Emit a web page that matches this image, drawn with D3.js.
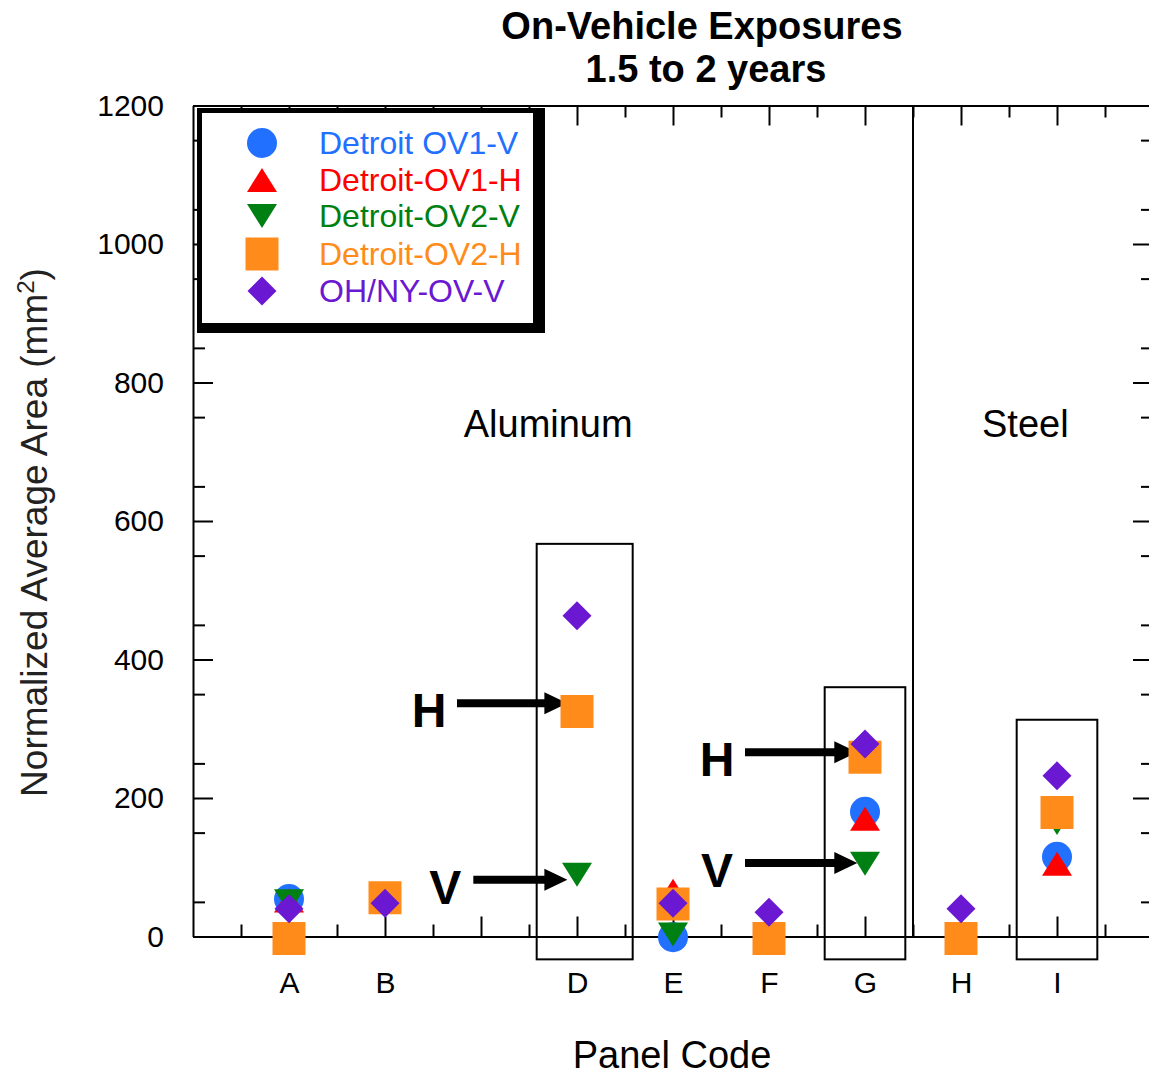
<!DOCTYPE html>
<html>
<head>
<meta charset="utf-8">
<script src="https://cdn.jsdelivr.net/npm/d3@7"></script>
<style>
  body { margin: 0; background: #fff; }
  text { font-family: "Liberation Sans", Arial, sans-serif; }
</style>
</head>
<body>
<div id="chart"></div>
<script>
// Panel codes (position 1..9), C has no data and no label
const panels = ["A", "B", "C", "D", "E", "F", "G", "H", "I"];
const tickLabels = ["A", "B", "", "D", "E", "F", "G", "H", "I"];
const yTicks = [0, 200, 400, 600, 800, 1000, 1200];

// Series values per panel (null = no point)
const detroitOV1V = [54, null, null, null, -1, null, 180, null, 115];
const detroitOV1H = [52, null, null, null, 66, null, 170, null, 105];
const detroitOV2V = [51, null, null, 89, 3, null, 105, null, 164];
const detroitOV2H = [-3, 56, null, 325, 47, -3, 259, -3, 179];
const ohnyOVV = [40, 48, null, 463, 48, 35, 278, 40, 232];

const seriesNames = ["Detroit OV1-V", "Detroit-OV1-H", "Detroit-OV2-V", "Detroit-OV2-H", "OH/NY-OV-V"];
const seriesValues = [detroitOV1V, detroitOV1H, detroitOV2V, detroitOV2H, ohnyOVV];

// Annotation boxes (x in panel units, top in mm2) and H/V arrows
const boxes = [
  { x0: 3.58, x1: 4.58, top: 567 },
  { x0: 6.58, x1: 7.42, top: 360 },
  { x0: 8.58, x1: 9.42, top: 313 }
];
const arrows = [
  { label: "H", x0: 2.75, x1: 3.9, y: 337 },
  { label: "V", x0: 2.92, x1: 3.9, y: 82 },
  { label: "H", x0: 5.75, x1: 6.92, y: 266 },
  { label: "V", x0: 5.75, x1: 6.92, y: 106 }
];

(function() {
const margin = { top: 105.5, right: -4, bottom: 139.5, left: 193 };
const W = 1149, H = 1076;
const width = W - margin.left - margin.right;
const height = H - margin.top - margin.bottom;

const colors = ["#2170ff", "#ff0000", "#007f12", "#ff8c1a", "#6a18d2"];

// marker shapes, centred on their box
const shapes = [
  () => d3.symbol(d3.symbolCircle, Math.PI * 15 * 15)(),
  () => "M0,-12L15,12L-15,12Z",
  () => "M-15,-12L15,-12L0,12Z",
  () => "M-16.5,-16.5H16.5V16.5H-16.5Z",
  () => "M0,-14.5L14.5,0L0,14.5L-14.5,0Z"
];

const svgRoot = d3.select("#chart")
  .append("svg")
  .attr("width", W)
  .attr("height", H);

const svg = svgRoot.append("g")
  .attr("transform", `translate(${margin.left},${margin.top})`);

// Scales
const x = d3.scaleLinear().domain([0, 10]).range([0, width]);
const y = d3.scaleLinear().domain([0, 1200]).range([height, 0]);

const majorX = d3.range(1, 10);
const minorX = d3.range(0.5, 10, 1);
const minorY = d3.range(50, 1200, 100);

function styleAxis(g) {
  g.selectAll("path, line").attr("stroke", "#000").attr("stroke-width", 2);
  g.selectAll("text").attr("fill", "#000").style("font-family", "Liberation Sans, Arial, sans-serif");
}

// Left axis
svg.append("g")
  .call(d3.axisLeft(y).tickValues(yTicks).tickFormat(d3.format("d"))
    .tickSizeInner(-20).tickSizeOuter(0).tickPadding(29))
  .call(styleAxis)
  .selectAll("text").style("font-size", "30px");
svg.append("g")
  .call(d3.axisLeft(y).tickValues(minorY).tickSize(-12).tickFormat(""))
  .call(styleAxis).select(".domain").remove();

// Right axis
svg.append("g")
  .attr("transform", `translate(${width},0)`)
  .call(d3.axisRight(y).tickValues(yTicks).tickSizeInner(-20).tickSizeOuter(0).tickFormat(""))
  .call(styleAxis);
svg.append("g")
  .attr("transform", `translate(${width},0)`)
  .call(d3.axisRight(y).tickValues(minorY).tickSize(-12).tickFormat(""))
  .call(styleAxis).select(".domain").remove();

// Bottom axis
svg.append("g")
  .attr("transform", `translate(0,${height})`)
  .call(d3.axisBottom(x).tickValues(majorX).tickSizeInner(-20).tickSizeOuter(0).tickPadding(35)
    .tickFormat((d, i) => tickLabels[i]))
  .call(styleAxis)
  .selectAll("text").style("font-size", "30px");
svg.append("g")
  .attr("transform", `translate(0,${height})`)
  .call(d3.axisBottom(x).tickValues(minorX).tickSize(-12).tickFormat(""))
  .call(styleAxis).select(".domain").remove();

// Top axis
svg.append("g")
  .call(d3.axisTop(x).tickValues(majorX).tickSizeInner(-20).tickSizeOuter(0).tickFormat(""))
  .call(styleAxis);
svg.append("g")
  .call(d3.axisTop(x).tickValues(minorX).tickSize(-12).tickFormat(""))
  .call(styleAxis).select(".domain").remove();

// Aluminum / Steel divider
svg.append("line")
  .attr("x1", x(7.5)).attr("x2", x(7.5))
  .attr("y1", y(1200)).attr("y2", y(0))
  .attr("stroke", "#000").attr("stroke-width", 2);

svg.append("text")
  .attr("x", x(3.7)).attr("y", y(722))
  .attr("text-anchor", "middle")
  .style("font-size", "38px")
  .text("Aluminum");
svg.append("text")
  .attr("x", x(8.67)).attr("y", y(722))
  .attr("text-anchor", "middle")
  .style("font-size", "38px")
  .text("Steel");

// Boxes around D, G, I
svg.selectAll(".box")
  .data(boxes)
  .enter()
  .append("rect")
  .attr("x", d => x(d.x0))
  .attr("y", d => y(d.top))
  .attr("width", d => x(d.x1) - x(d.x0))
  .attr("height", d => y(-33) - y(d.top))
  .attr("fill", "none")
  .attr("stroke", "#000")
  .attr("stroke-width", 2);

// Arrows
arrows.forEach(a => {
  const x0 = x(a.x0), x1 = x(a.x1), yy = y(a.y);
  svg.append("line")
    .attr("x1", x0).attr("x2", x1 - 20)
    .attr("y1", yy).attr("y2", yy)
    .attr("stroke", "#000").attr("stroke-width", 8);
  svg.append("path")
    .attr("d", `M${x1},${yy}L${x1 - 23},${yy - 11}L${x1 - 23},${yy + 11}Z`)
    .attr("fill", "#000");
  svg.append("text")
    .attr("x", x0 - 28).attr("y", yy + 24)
    .attr("text-anchor", "middle")
    .style("font-size", "48px")
    .style("font-weight", "bold")
    .text(a.label);
});

// Points
seriesValues.forEach((vals, s) => {
  const pts = vals.map((v, i) => ({ pos: i + 1, v })).filter(d => d.v !== null);
  svg.selectAll(".pt" + s)
    .data(pts)
    .enter()
    .append("path")
    .attr("d", shapes[s]())
    .attr("transform", d => `translate(${x(d.pos)},${y(d.v)})`)
    .attr("fill", colors[s]);
});

// Legend
const legend = svgRoot.append("g");
legend.append("rect")
  .attr("x", 197).attr("y", 108)
  .attr("width", 348).attr("height", 225)
  .attr("fill", "#000");
legend.append("rect")
  .attr("x", 202).attr("y", 113)
  .attr("width", 331).attr("height", 210)
  .attr("fill", "#fff");
const legendY = [143, 180, 216, 254, 291];
seriesNames.forEach((name, s) => {
  legend.append("path")
    .attr("d", shapes[s]())
    .attr("transform", `translate(262,${legendY[s]})`)
    .attr("fill", colors[s]);
  legend.append("text")
    .attr("x", 319).attr("y", legendY[s] + 11)
    .attr("fill", colors[s])
    .style("font-size", "32px")
    .text(name);
});

// Title
svgRoot.append("text")
  .attr("x", 702).attr("y", 39)
  .attr("text-anchor", "middle")
  .style("font-size", "38px").style("font-weight", "bold")
  .text("On-Vehicle Exposures");
svgRoot.append("text")
  .attr("x", 706).attr("y", 82)
  .attr("text-anchor", "middle")
  .style("font-size", "38px").style("font-weight", "bold")
  .text("1.5 to 2 years");

// Axis titles
svgRoot.append("text")
  .attr("x", 672).attr("y", 1068)
  .attr("text-anchor", "middle")
  .style("font-size", "38px")
  .text("Panel Code");

const yl = svgRoot.append("text")
  .attr("transform", `translate(47,${(265 + 800) / 2}) rotate(-90)`)
  .attr("text-anchor", "middle")
  .attr("fill", "#222")
  .style("font-size", "37px");
yl.append("tspan").text("Normalized Average Area (mm");
yl.append("tspan").attr("dy", -13).style("font-size", "24px").text("2");
yl.append("tspan").attr("dy", 13).text(")");
})();
</script>
</body>
</html>
